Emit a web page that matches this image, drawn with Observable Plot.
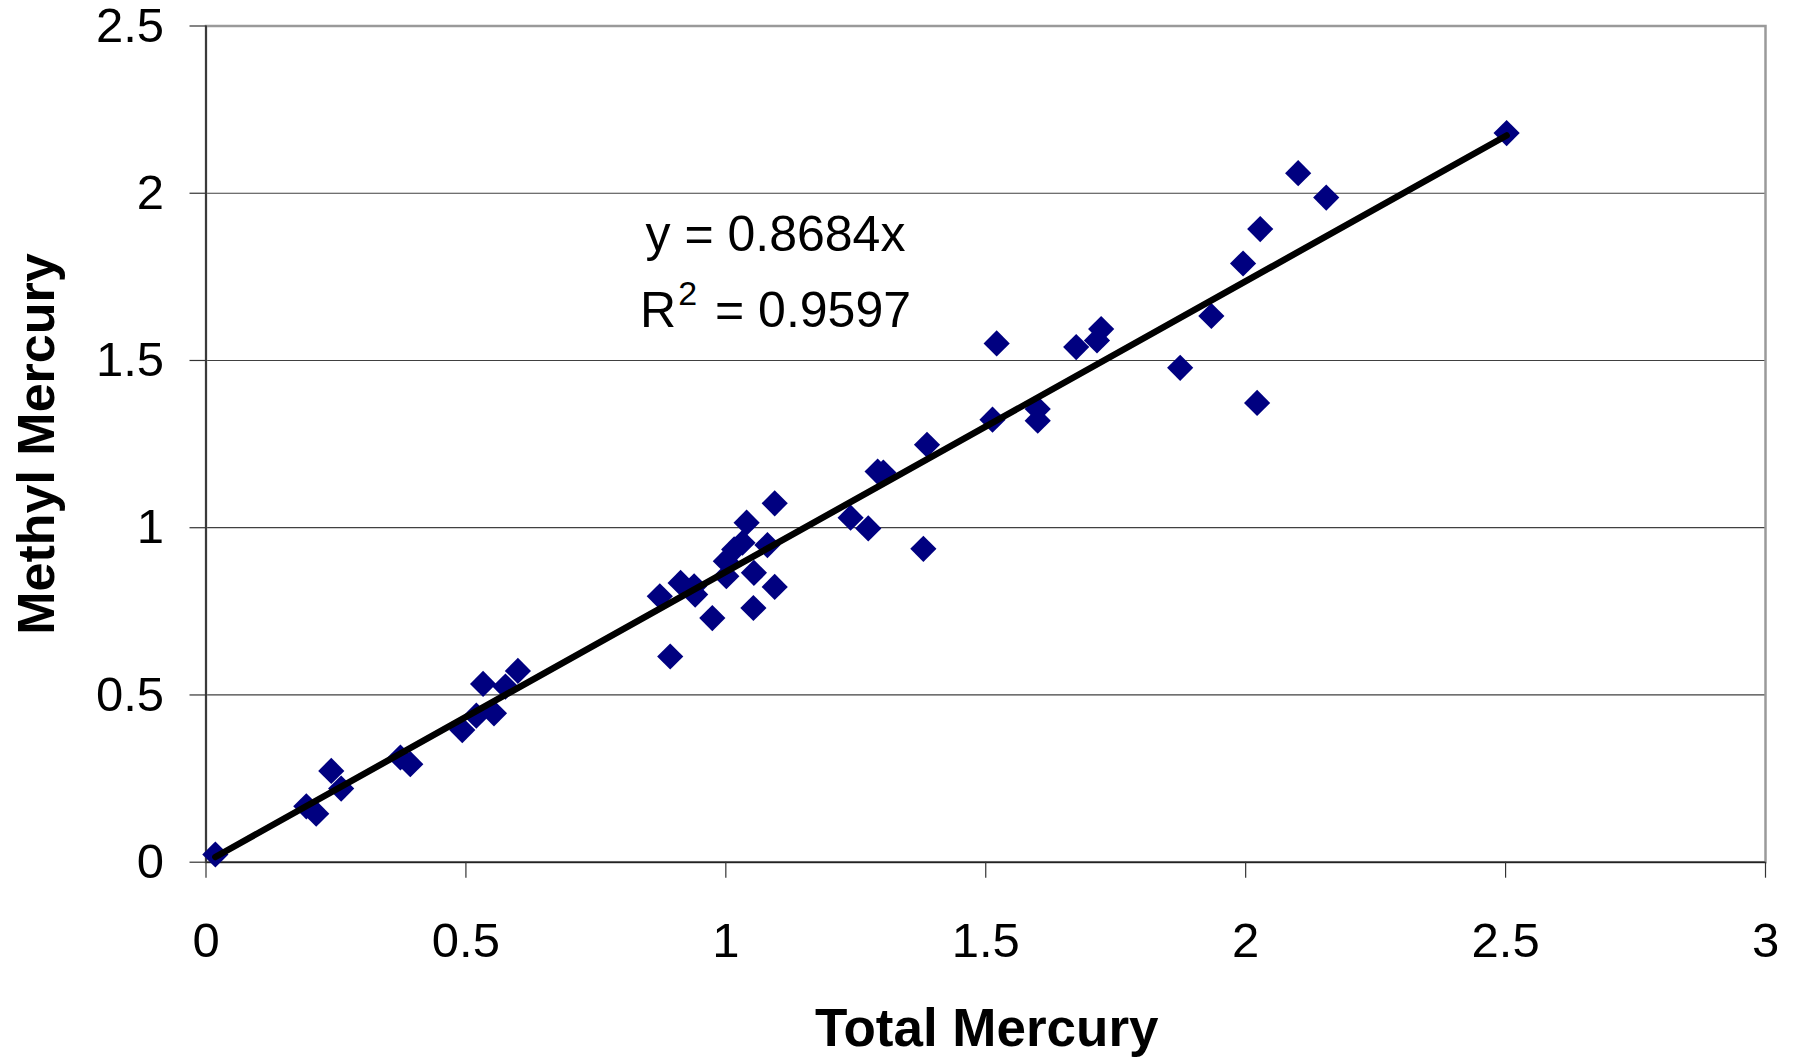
<!DOCTYPE html>
<html>
<head>
<meta charset="utf-8">
<script src="https://cdn.jsdelivr.net/npm/d3@7"></script>
<script src="https://cdn.jsdelivr.net/npm/@observablehq/plot@0.6"></script>
<style>
  html, body { margin: 0; padding: 0; background: #fff; }
  #chart svg { display: block; }
</style>
</head>
<body>
<div id="chart"></div>
<script>
// ---- data ----
const totalMercury = [
  0.018, 0.193, 0.212, 0.241, 0.260, 0.374, 0.393, 0.493, 0.520, 0.554,
  0.533, 0.576, 0.600, 0.873, 0.893, 0.913, 0.939, 0.941, 0.974, 1.000,
  1.001, 1.016, 1.032, 1.040, 1.054, 1.053, 1.080, 1.094, 1.094, 1.240,
  1.274, 1.292, 1.303, 1.380, 1.387, 1.513, 1.521, 1.600, 1.600, 1.674,
  1.714, 1.722, 1.874, 1.934, 1.995, 2.022, 2.028, 2.101, 2.155, 2.502
];
const methylMercury = [
  0.023, 0.167, 0.145, 0.273, 0.220, 0.313, 0.293, 0.395, 0.438, 0.445,
  0.533, 0.525, 0.572, 0.795, 0.615, 0.835, 0.825, 0.800, 0.730, 0.900,
  0.855, 0.935, 0.955, 1.015, 0.865, 0.760, 0.948, 1.073, 0.823, 1.030,
  0.998, 1.168, 1.165, 0.937, 1.248, 1.323, 1.551, 1.355, 1.320, 1.540,
  1.560, 1.594, 1.478, 1.633, 1.790, 1.373, 1.893, 2.060, 1.987, 2.180
];
const slope = 0.8684;
const rSquared = 0.9597;
const xTicks = [0, 0.5, 1, 1.5, 2, 2.5, 3];
const yTicks = [0, 0.5, 1, 1.5, 2, 2.5];
const xTitle = "Total Mercury";
const yTitle = "Methyl Mercury";

// ---- derived tables ----
const points = totalMercury.map((x, i) => ({x, y: methylMercury[i]}));
const [xMin, xMax] = d3.extent(totalMercury);
const trend = [xMin, xMax].map(x => ({x, y: slope * x}));
const eq1 = `y = ${slope}x`;
const eq2 = `R2 = ${rSquared}`;

const font = "'Liberation Sans', Arial, Helvetica, sans-serif";

const chart = Plot.plot({
  width: 1797,
  height: 1061,
  marginLeft: 205.5,
  marginRight: 32,
  marginTop: 25.5,
  marginBottom: 199.3,
  style: {fontFamily: font, background: "#fff", color: "#000", overflow: "visible"},
  x: {type: "linear", domain: [0, 3]},
  y: {type: "linear", domain: [0, 2.5]},
  marks: [
    Plot.gridY(yTicks.filter(d => d > 0 && d < 2.5), {stroke: "#404040", strokeOpacity: 1, strokeWidth: 1.2}),
    Plot.frame({stroke: "#9a9a9a", strokeWidth: 2.5}),
    Plot.ruleX([0], {stroke: "#222", strokeWidth: 1.6}),
    Plot.ruleY([0], {stroke: "#222", strokeWidth: 1.6}),
    Plot.axisX(xTicks, {
      tickSize: 16, tickPadding: 44, fontSize: 49, stroke: "#333", strokeWidth: 1.2,
      tickFormat: d => String(d), label: null, fill: "#000"
    }),
    Plot.axisY(yTicks, {
      tickSize: 16, tickPadding: 26, fontSize: 49, stroke: "#333", strokeWidth: 1.2,
      tickFormat: d => String(d), label: null, fill: "#000"
    }),
    Plot.dot(points, {x: "x", y: "y", symbol: "diamond2", r: 11.8, fill: "#000080", stroke: "none"}),
    Plot.line(trend, {x: "x", y: "y", stroke: "#000", strokeWidth: 6.5, strokeLinecap: "round"}),
    Plot.text([eq1], {x: 0.8455, y: 1.8287, text: d => d, textAnchor: "start", lineAnchor: "bottom", fontSize: 50, fill: "#000"}),
    Plot.text([eq2], {x: 0.835, y: 1.6015, text: d => d, textAnchor: "start", lineAnchor: "bottom", fontSize: 50, fill: "#000"}),
    Plot.text([xTitle], {frameAnchor: "bottom", dx: 1, dy: 183.3, lineAnchor: "bottom", textAnchor: "middle", text: d => d, fontSize: 53, fontWeight: "bold", fill: "#000"}),
    Plot.text([yTitle], {frameAnchor: "left", dx: -152.5, rotate: -90, lineAnchor: "bottom", textAnchor: "middle", text: d => d, fontSize: 52, fontWeight: "bold", fill: "#000"})
  ]
});

document.getElementById("chart").appendChild(chart);

// superscript in the R² label
const svg = d3.select(chart);
svg.selectAll("text").filter(function() { return this.textContent === eq2; })
  .each(function() {
    const t = d3.select(this);
    t.text(null);
    t.append("tspan").text("R");
    t.append("tspan").attr("font-size", 34).attr("dx", 2).attr("dy", -22).text("2");
    t.append("tspan").attr("dx", 4).attr("dy", 22).text(" = " + rSquared);
  });
</script>
</body>
</html>
